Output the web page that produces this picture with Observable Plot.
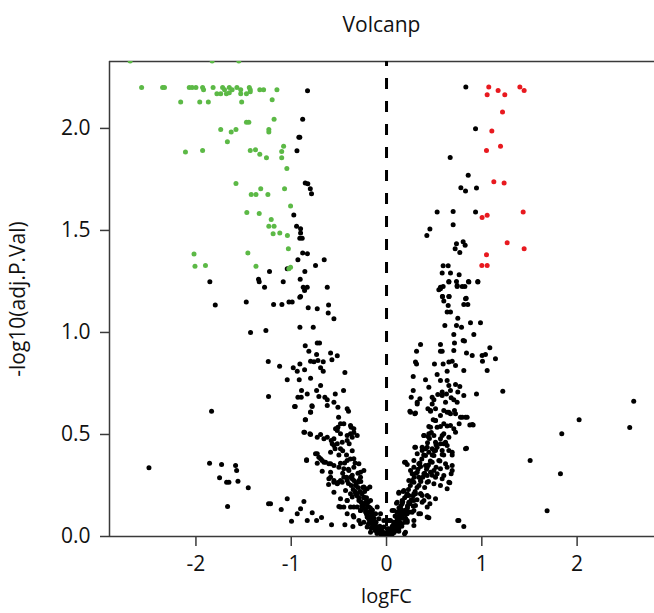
<!DOCTYPE html>
<html>
<head>
<meta charset="utf-8">
<script src="https://cdn.jsdelivr.net/npm/d3@7"></script>
<script src="https://cdn.jsdelivr.net/npm/@observablehq/plot@0.6"></script>
<style>
  html, body { margin: 0; padding: 0; background: #fff; }
  #title { height: 45px; width: 654px; box-sizing: border-box; padding-left: 109px; padding-top: 10px;
           text-align: center; font-family: "Open Sans", sans-serif; font-size: 21px; color: #111; line-height: 28px; }
</style>
</head>
<body>
<div id="title">Volcanp</div>
<div id="chart"></div>
<script>
// [logFC, -log10(adj.P.Val)]
const downGenes = [
  [-2.69,2.33],[-1.83,2.33],[-1.55,2.33],
  [-2.57,2.20],[-2.35,2.20],[-2.33,2.20],[-2.07,2.20],[-2.04,2.20],[-2.00,2.20],[-1.93,2.20],[-1.92,2.19],[-1.82,2.20],[-1.72,2.20],[-1.70,2.19],[-1.65,2.20],[-1.62,2.19],[-1.57,2.20],[-1.53,2.19],[-1.44,2.20],[-1.43,2.19],[-1.33,2.19],[-1.29,2.19],[-1.15,2.19],
  [-1.78,2.17],[-1.74,2.17],[-1.68,2.17],[-1.65,2.175],[-1.53,2.17],[-1.47,2.17],[-1.43,2.18],
  [-2.16,2.13],[-1.96,2.13],[-1.87,2.13],[-1.52,2.13],[-1.20,2.14],
  [-1.47,2.03],[-1.445,2.03],[-1.18,2.045],
  [-1.74,1.995],[-1.63,1.982],[-1.58,1.995],[-1.235,1.995],[-1.235,1.982],
  [-1.67,1.935],[-2.11,1.884],[-1.93,1.892],
  [-1.43,1.892],[-1.375,1.895],[-1.33,1.873],[-1.26,1.856],[-1.10,1.887],[-1.08,1.913],[-1.10,1.856],
  [-1.046,1.804],[-1.58,1.73],
  [-1.42,1.676],[-1.37,1.676],[-1.32,1.704],[-1.245,1.676],[-1.07,1.704],
  [-1.007,1.62],[-1.466,1.588],[-1.336,1.583],
  [-1.21,1.554],[-1.235,1.52],[-1.18,1.52],[-1.19,1.484],[-1.12,1.487],[-1.04,1.475],
  [-1.03,1.41],[-2.02,1.384],[-2.01,1.324],[-1.90,1.328],[-1.455,1.39],
  [-1.37,1.324],[-1.025,1.312],[-1.007,1.32]
];
const upGenes = [
  [1.073,2.203],[1.171,2.186],[1.056,2.165],[1.241,2.165],[1.399,2.203],[1.444,2.186],
  [1.217,2.080],[1.105,1.987],[1.049,1.892],[1.196,1.913],[1.126,1.739],[1.234,1.732],
  [1.003,1.564],[1.056,1.574],[1.434,1.590],[1.266,1.440],[1.444,1.410],[1.049,1.381],
  [1.000,1.328],[1.056,1.328]
];
const notSigUpper = [
  [-0.829,2.185],[-0.88,2.045],[-0.92,1.957],[-0.91,1.957],[-0.94,1.89],[-0.853,1.732],[-0.826,1.729],[-0.80,1.704],[-0.787,1.68],[-0.973,1.576],[-0.944,1.52],[-0.902,1.508],[-0.902,1.487],[-0.91,1.462],[-0.885,1.462],[-0.88,1.39],[-0.83,1.386],[-0.93,1.356],[-0.745,1.328],[-0.654,1.356],
  [-1.854,1.248],[-1.343,1.261],[-1.336,1.248],[-1.28,1.222],[-1.228,1.299],[-1.084,1.248],[-1.042,1.312],[-0.906,1.261],[-0.857,1.299],[-0.874,1.222],[-0.832,1.222],[-0.86,1.206],[-0.622,1.222],[-0.91,1.173],
  [0.832,2.203],[0.934,1.998],[0.668,1.858],[0.857,1.771],[0.780,1.709],[0.829,1.693],[0.944,1.708],[0.531,1.590],[0.699,1.593],[0.934,1.590],[0.699,1.528],[0.455,1.507],[0.423,1.475],[0.734,1.435],[0.804,1.444],[0.825,1.428],[0.720,1.41],[0.769,1.392],[0.594,1.327],[0.647,1.327],[0.584,1.292],[0.671,1.292],[0.762,1.283],[0.654,1.25],[0.734,1.25],[0.86,1.25],[0.958,1.25],[0.566,1.222],[0.549,1.209],[0.741,1.225],[0.822,1.225],[0.587,1.176],[0.654,1.176],[0.836,1.168]
];
const notSigLeft = [
  [-1.797,1.134],[-1.472,1.149],[-1.185,1.137],[-1.098,1.137],[-1.024,1.149],[-0.990,1.149],[-0.902,1.176],[-0.822,1.121],[-0.727,1.116],[-0.608,1.134],[-0.612,1.095],[-0.552,1.067],
  [-1.427,1.000],[-1.266,1.010],[-0.909,1.026],[-0.769,1.026],[-0.853,0.935],[-0.815,0.908],[-0.727,0.948],[-0.703,0.948],[-0.734,0.892],[-0.664,0.856],[-0.587,0.899],[-0.573,0.866],[-0.517,0.886],[-0.437,0.804],
  [-1.241,0.858],[-1.122,0.835],[-0.979,0.827],[-0.937,0.810],[-0.909,0.846],[-0.860,0.817],[-0.797,0.859],[-0.762,0.856],[-0.720,0.863],[-0.692,0.827],[-0.664,0.810],
  [-1.042,0.768],[-0.916,0.768],[-0.797,0.775],[-0.892,0.716],[-0.930,0.683],[-0.895,0.683],[-0.832,0.699],[-0.734,0.716],[-0.692,0.740],[-0.710,0.686],[-0.647,0.683],[-0.622,0.670],[-0.538,0.699],[-0.451,0.716],[-0.622,0.642],[-0.552,0.658],[-0.510,0.634],
  [-1.238,0.686],[-0.958,0.637],[-0.783,0.641],[-0.853,0.572],[-0.797,0.609],[-0.413,0.626],[-0.399,0.614],[-0.503,0.585],[-0.510,0.536],[-0.535,0.528],[-0.483,0.552],[-0.371,0.536],[-0.343,0.510],[-0.308,0.495],
  [-0.860,0.511],[-0.797,0.500],[-0.727,0.487],[-0.692,0.500],[-0.622,0.487],[-0.580,0.471],[-0.552,0.479],[-0.483,0.503],[-0.413,0.495],[-0.378,0.503],[-0.392,0.454],[-0.483,0.430],[-0.552,0.446],[-0.587,0.413],[-0.727,0.405],[-0.692,0.381],[-0.657,0.364],[-0.587,0.356],[-0.483,0.359],[-0.413,0.373],[-0.343,0.381],[-0.290,0.356],[-0.238,0.324],
  [-0.839,0.376],[-0.727,0.359],[-0.675,0.320],[-0.587,0.291],[-0.552,0.275],[-0.510,0.265],[-0.483,0.275],[-0.448,0.291],[-0.378,0.291],[-0.343,0.275],[-0.301,0.266],[-0.273,0.291],[-0.175,0.242],[-0.608,0.255],[-0.430,0.225],[-0.378,0.209],[-0.308,0.209],[-0.238,0.193],[-0.168,0.176],[-0.098,0.144],[-0.063,0.111],[-0.028,0.078],
  [-0.343,0.144],[-0.273,0.127],[-0.203,0.095],[-0.133,0.078],[-0.098,0.046],[-0.413,0.176],[-0.483,0.144],[-0.413,0.111],[-0.343,0.095],[-0.273,0.062],[-0.203,0.046],[-0.168,0.021],[-0.063,0.029],[-0.028,0.013],
  [-0.965,0.637],[-0.780,0.637],[-0.797,0.610],[-0.850,0.572],[-0.867,0.511],[-0.804,0.503],
  [-0.657,0.479],[-0.517,0.520],[-0.448,0.552],[-0.378,0.544],[-0.343,0.528],[-0.360,0.487],[-0.413,0.471],[-0.465,0.462],[-0.517,0.454],[-0.570,0.454],
  [-0.839,0.373],[-0.745,0.405],[-0.710,0.389],[-0.675,0.373],[-0.640,0.364],[-0.605,0.356],[-0.552,0.348],[-0.500,0.340],[-0.448,0.332],[-0.395,0.324],[-0.343,0.340],[-0.273,0.315],[-0.587,0.315],[-0.605,0.283],[-0.552,0.266],[-0.517,0.258],[-0.465,0.266],[-0.413,0.275],[-0.360,0.283],[-0.325,0.250],[-0.290,0.275],[-0.238,0.242],[-0.203,0.234],
  [-0.552,0.217],[-0.483,0.185],[-0.413,0.176],[-0.360,0.193],[-0.325,0.209],[-0.290,0.176],[-0.255,0.160],[-0.220,0.168],[-0.185,0.144],[-0.150,0.127],[-0.115,0.111],[-0.080,0.087],[-0.168,0.095],[-0.203,0.111],[-0.273,0.127],[-0.308,0.144],[-0.378,0.144],[-0.448,0.144],[-0.500,0.147],[-0.350,0.103],[-0.290,0.078],[-0.238,0.070],[-0.185,0.062],[-0.133,0.046],[-0.063,0.026],[-0.010,0.016],
  [-0.46,0.31],[-0.42,0.29],[-0.40,0.26],[-0.37,0.25],[-0.35,0.23],[-0.33,0.22],[-0.31,0.20],[-0.29,0.19],[-0.27,0.17],[-0.26,0.15],[-0.24,0.14],[-0.22,0.12],[-0.21,0.11],[-0.19,0.09],[-0.18,0.08],[-0.16,0.065],[-0.14,0.05],[-0.12,0.04],[-0.10,0.035],[-0.08,0.03],[-0.06,0.02],
  [-0.30,0.24],[-0.32,0.26],[-0.28,0.22],[-0.26,0.21],[-0.24,0.19],[-0.22,0.16],[-0.20,0.15],[-0.18,0.12],[-0.16,0.10],[-0.14,0.08],[-0.12,0.06],[-0.36,0.30],[-0.40,0.33],[-0.44,0.36],[-0.38,0.38],[-0.42,0.40],[-0.46,0.42],[-0.50,0.40],[-0.54,0.43],[-0.36,0.42],[-0.33,0.36],[-0.30,0.31],[-0.27,0.27],[-0.25,0.24],[-0.23,0.22],[-0.21,0.19],[-0.19,0.17],[-0.17,0.14],[-0.15,0.13]
];
const notSigRight = [
  [0.566,1.214],[0.594,1.225],[0.654,1.247],[0.741,1.230],[0.794,1.225],[0.864,1.247],[0.958,1.247],[0.587,1.176],[0.657,1.176],[0.601,1.154],[0.647,1.132],[0.829,1.165],[0.811,1.137],[0.853,1.137],[0.636,1.100],[0.671,1.100],[0.612,1.034],[0.748,1.070],[0.734,1.034],[0.787,1.026],[0.706,0.990],[0.881,1.047],[0.986,1.047],[0.916,0.990],
  [0.804,0.961],[0.818,0.958],[0.713,0.948],[0.566,0.941],[0.357,0.941],[0.315,0.908],[0.566,0.908],[0.584,0.908],[0.706,0.912],[0.839,0.899],[0.899,0.887],[1.003,0.887],[1.038,0.892],[1.084,0.925],[1.143,0.871],[1.007,0.859],[1.056,0.814],
  [0.304,0.855],[0.315,0.846],[0.503,0.846],[0.594,0.846],[0.654,0.855],[0.689,0.859],[0.724,0.838],[0.636,0.810],[0.811,0.814],[0.280,0.784],[0.409,0.768],[0.444,0.732],[0.531,0.794],[0.566,0.765],[0.636,0.765],[0.654,0.740],[0.724,0.745],[0.769,0.735],[0.671,0.716],[0.584,0.708],[0.748,0.708],[0.811,0.691],[0.944,0.699],[1.220,0.712],
  [0.280,0.716],[0.259,0.683],[0.322,0.650],[0.350,0.675],[0.479,0.683],[0.497,0.670],[0.538,0.696],[0.584,0.691],[0.629,0.699],[0.678,0.680],[0.706,0.670],
  [0.245,0.614],[0.297,0.601],[0.434,0.626],[0.462,0.614],[0.514,0.626],[0.601,0.618],[0.636,0.609],[0.671,0.601],[0.713,0.618],[0.776,0.585],[0.829,0.585],[0.874,0.547],[0.909,0.547],[0.762,0.552],[0.706,0.528],[0.636,0.541],[0.566,0.539],[0.490,0.572],[0.514,0.569],[0.462,0.536],
  [0.392,0.495],[0.437,0.490],[0.497,0.495],[0.584,0.495],[0.619,0.462],[0.566,0.454],[0.531,0.438],[0.479,0.430],[0.427,0.438],[0.374,0.438],[0.297,0.438],[0.322,0.405],[0.409,0.397],[0.497,0.397],[0.584,0.402],[0.689,0.400],[0.839,0.433],
  [0.189,0.364],[0.217,0.353],[0.287,0.340],[0.357,0.343],[0.427,0.340],[0.497,0.324],[0.566,0.332],[0.636,0.340],[0.678,0.307],[0.269,0.307],[0.269,0.275],[0.339,0.291],[0.427,0.299],[0.514,0.291],[0.584,0.283],[0.664,0.263],
  [0.129,0.212],[0.175,0.221],[0.217,0.209],[0.287,0.209],[0.357,0.209],[0.427,0.201],[0.105,0.163],[0.164,0.160],[0.234,0.168],[0.287,0.176],[0.392,0.176],[0.455,0.160],[0.077,0.127],[0.147,0.111],[0.217,0.111],[0.287,0.127],[0.357,0.111],[0.444,0.092],[0.042,0.078],[0.094,0.070],[0.147,0.062],[0.217,0.078],[0.287,0.078],[-0.028,0.046],[0.024,0.038],[0.077,0.033],[0.129,0.038],[-0.045,0.021],[0.007,0.016],[0.189,0.013],[0.748,0.078],[0.811,0.049],
  [0.322,0.658],[0.479,0.650],[0.619,0.658],[0.741,0.658],[0.252,0.609],[0.304,0.605],[0.462,0.618],[0.566,0.593],[0.654,0.609],[0.724,0.601],[0.794,0.585],[0.846,0.585],[0.899,0.549],[0.514,0.569],[0.601,0.552],[0.531,0.536],[0.444,0.539],[0.671,0.544],[0.724,0.511],
  [0.392,0.495],[0.444,0.503],[0.601,0.503],[0.654,0.487],[0.566,0.479],[0.514,0.462],[0.601,0.454],[0.636,0.446],[0.304,0.438],[0.374,0.422],[0.444,0.413],[0.514,0.422],[0.584,0.422],[0.654,0.422],[0.689,0.413],[0.829,0.430],
  [0.199,0.364],[0.287,0.373],[0.339,0.356],[0.409,0.348],[0.479,0.364],[0.549,0.373],[0.619,0.356],[0.689,0.348],[0.689,0.324],[0.252,0.324],[0.322,0.315],[0.392,0.307],[0.462,0.315],[0.531,0.307],[0.601,0.299],[0.654,0.266],[0.234,0.275],[0.287,0.266],[0.357,0.275],[0.427,0.266],[0.497,0.258],[0.566,0.250],[0.636,0.234],
  [0.129,0.217],[0.182,0.225],[0.234,0.201],[0.304,0.209],[0.374,0.201],[0.444,0.193],[0.514,0.185],[0.112,0.168],[0.164,0.176],[0.234,0.160],[0.304,0.152],[0.374,0.168],[0.427,0.144],[0.059,0.127],[0.129,0.119],[0.199,0.111],[0.269,0.119],[0.339,0.111],[0.427,0.095],[0.024,0.078],[0.077,0.070],[0.147,0.062],[0.217,0.070],[0.287,0.054],[0.007,0.038],[0.059,0.029],[0.129,0.026],[0.199,0.021],[0.759,0.078],
  [0.06,0.05],[0.08,0.06],[0.10,0.07],[0.12,0.08],[0.14,0.09],[0.16,0.10],[0.18,0.12],[0.20,0.13],[0.22,0.15],[0.24,0.16],[0.26,0.18],[0.28,0.20],[0.30,0.22],[0.32,0.24],[0.34,0.25],[0.36,0.27],[0.38,0.29],[0.40,0.31],[0.42,0.33],[0.44,0.35],[0.46,0.37],[0.48,0.40],[0.50,0.42],[0.52,0.45],
  [0.09,0.10],[0.11,0.12],[0.13,0.14],[0.15,0.15],[0.17,0.17],[0.19,0.19],[0.21,0.20],[0.23,0.23],[0.25,0.25],[0.27,0.27],[0.29,0.29],[0.31,0.31],[0.33,0.33],[0.35,0.36],[0.37,0.38],[0.39,0.40],[0.41,0.43],[0.43,0.46],[0.45,0.48],[0.47,0.51],
  [0.40,0.24],[0.44,0.27],[0.48,0.30],[0.52,0.34],[0.56,0.37],[0.60,0.40],[0.36,0.21],[0.32,0.18],[0.28,0.15],[0.24,0.12],[0.20,0.09],[0.16,0.06],[0.12,0.05]
];
const notSigCore = [
  [-0.12,0.03],[-0.10,0.015],[-0.08,0.02],[-0.06,0.01],[-0.04,0.008],[-0.02,0.004],[0.00,0.002],[0.02,0.004],[0.04,0.008],[0.06,0.012],[0.08,0.02],[0.10,0.03],[0.12,0.04],
  [-0.05,0.03],[0.05,0.035],[-0.03,0.02],[0.03,0.02],[0.00,0.015],[-0.09,0.045],[0.09,0.05],[-0.14,0.06],[0.14,0.07],[0.17,0.09],[-0.17,0.08],[0.20,0.11],[-0.20,0.10],
  [0.11,0.09],[-0.11,0.07],[0.16,0.13],[-0.15,0.11],[0.22,0.14],[-0.22,0.13],[0.25,0.17],[-0.25,0.16],[-0.07,0.05],[0.07,0.055],[-0.13,0.09],[0.13,0.10],
  [-0.01,0.005],[0.01,0.008],[-0.16,0.04],[0.16,0.05],[0.19,0.07],[-0.19,0.06]
];
const notSigOutliers = [
  [-2.493,0.337],[-1.836,0.614],[-1.857,0.359],[-1.731,0.353],[-1.584,0.348],[-1.573,0.324],[-1.752,0.288],[-1.678,0.266],[-1.654,0.266],[-1.559,0.271],[-1.451,0.239],[-1.668,0.147],
  [-1.238,0.160],[-1.217,0.160],[-1.105,0.132],[-1.042,0.185],[-0.997,0.075],[-0.937,0.111],[-0.902,0.136],[-0.867,0.172],[-0.832,0.078],[-0.780,0.116],[-0.734,0.078],[-0.682,0.093],[-0.577,0.057],[-0.437,0.057],[-0.353,0.049],
  [2.594,0.663],[2.021,0.572],[2.552,0.534],[1.839,0.503],[1.507,0.373],[1.825,0.307],[1.685,0.126]
];

const xTicks = [-2, -1, 0, 1, 2];
const yTicks = [0, 0.5, 1, 1.5, 2];

const notSig = [...notSigUpper, ...notSigLeft, ...notSigRight, ...notSigCore, ...notSigOutliers];
const font = "Open Sans, sans-serif";
const axisColor = "#3a3a3a";
const dotR = 2.5;

const chart = Plot.plot({
  width: 654,
  height: 568,
  marginTop: 16,
  marginBottom: 77,
  marginLeft: 109,
  marginRight: 0,
  style: { fontFamily: font, background: "white", color: "#111" },
  x: { domain: [-2.907, 2.812] },
  y: { domain: [0, 2.328] },
  marks: [
    Plot.axisX({ ticks: xTicks, tickFormat: d => String(d), tickSize: 10, tickPadding: 10, fontSize: 21, stroke: axisColor, strokeWidth: 1.5, label: null }),
    Plot.axisY({ ticks: yTicks, tickFormat: d3.format(".1f"), tickSize: 9, tickPadding: 10, fontSize: 21, stroke: axisColor, strokeWidth: 1.5, label: null }),
    Plot.ruleY([0], { stroke: axisColor, strokeWidth: 1.5 }),
    Plot.ruleY([2.328], { stroke: axisColor, strokeWidth: 1.5 }),
    Plot.ruleX([-2.907], { stroke: axisColor, strokeWidth: 1.5 }),
    Plot.ruleX([0], { stroke: "black", strokeWidth: 3, strokeDasharray: "11,12", strokeDashoffset: 6 }),
    Plot.dot(notSig, { x: d => d[0], y: d => d[1], r: dotR, fill: "black", clip: true }),
    Plot.dot(downGenes, { x: d => d[0], y: d => d[1], r: dotR, fill: "#5cb946", clip: true }),
    Plot.dot(upGenes, { x: d => d[0], y: d => d[1], r: dotR, fill: "#e8191f", clip: true }),
    Plot.text(["logFC"], { x: () => 0, frameAnchor: "bottom", dy: 66, fontSize: 20, fill: "#111" }),
    Plot.text(["-log10(adj.P.Val)"], { frameAnchor: "left", textAnchor: "middle", dx: -91, rotate: -90, fontSize: 21, fill: "#111" })
  ]
});
document.getElementById("chart").appendChild(chart);
</script>
</body>
</html>
